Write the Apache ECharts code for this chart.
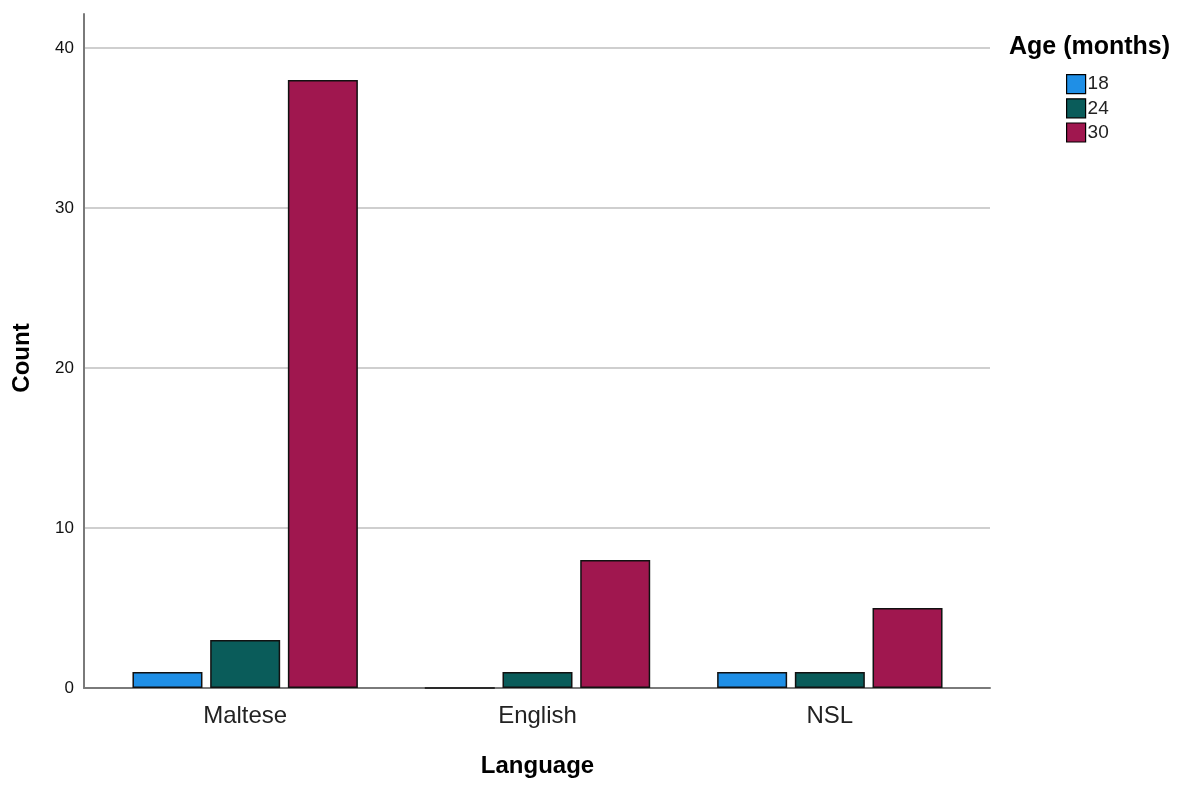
<!DOCTYPE html>
<html><head><meta charset="utf-8">
<script src="https://cdn.jsdelivr.net/npm/echarts@6/dist/echarts.min.js"></script>
<style>html,body{margin:0;padding:0;background:#fff}#c{width:1181px;height:788px}</style>
</head><body><div id="c"></div>
<script>
const categories = ['Maltese', 'English', 'NSL'];
const ageGroups = ['18', '24', '30'];
const age18 = [1, 0, 1];
const age24 = [3, 1, 1];
const age30 = [38, 8, 5];
const yTicks = [0, 10, 20, 30, 40];

const colors = ['#1f8fe6', '#0a5c5a', '#a0174f'];
const FONT = 'Liberation Sans, Arial, sans-serif';
const yMax = 40, yTop = 42.125;
const seriesData = [age18, age24, age30];

const chart = echarts.init(document.getElementById('c'));
chart.setOption({
  animation: false,
  backgroundColor: '#fff',
  textStyle: { fontFamily: FONT },
  grid: [
    { left: 84, right: 191, top: 14, bottom: 100 },
    { left: 84, right: 191, top: 48, bottom: 100 },
    { left: 99, right: 205, top: 48, bottom: 100 }
  ],
  title: [
    { text: 'Age (months)', left: 1004, top: 30, textStyle: { fontFamily: FONT, fontSize: 25, fontWeight: 'bold', color: '#000' } }
  ],
  legend: {
    data: ageGroups, orient: 'vertical', left: 1061, top: 69,
    icon: 'rect',
    itemWidth: 19, itemHeight: 19, itemGap: 4,
    textStyle: { fontFamily: FONT, fontSize: 19, color: '#222', padding: [2, 0, 0, -3] },
    itemStyle: { borderColor: '#000', borderWidth: 1.2 }
  },
  xAxis: [
    { gridIndex: 0, type: 'value', min: 0, max: 1, axisLine: { show: true, onZero: false, lineStyle: { color: '#7a7a7a', width: 2 } }, axisTick: { show: false }, axisLabel: { show: false }, splitLine: { show: false } },
    { gridIndex: 1, type: 'value', min: 0, max: 1, show: false },
    { gridIndex: 2, type: 'category', data: categories,
      name: 'Language', nameLocation: 'middle', nameGap: 66,
      nameTextStyle: { fontFamily: FONT, fontSize: 24, fontWeight: 'bold', color: '#000' },
      axisLine: { show: false }, axisTick: { show: false },
      axisLabel: { fontFamily: FONT, fontSize: 24, color: '#222', margin: 16 } }
  ],
  yAxis: [
    { gridIndex: 0, type: 'value', min: 0, max: yTop,
      name: 'Count', nameLocation: 'middle', nameGap: 50, nameRotate: 90,
      nameTextStyle: { fontFamily: FONT, fontSize: 24, fontWeight: 'bold', color: '#000', padding: [0, 14, 0, 0] },
      axisLine: { show: true, lineStyle: { color: '#7a7a7a', width: 2 } }, axisTick: { show: false }, axisLabel: { show: false }, splitLine: { show: false } },
    { gridIndex: 1, type: 'value', min: yTicks[0], max: yMax, interval: 10,
      axisLine: { show: false }, axisTick: { show: false },
      axisLabel: { fontFamily: FONT, fontSize: 17, color: '#111', margin: 10, padding: [4, 0, 0, 0] },
      splitLine: { show: true, lineStyle: { color: '#cfcfcf', width: 2 } } },
    { gridIndex: 2, type: 'value', min: 0, max: yMax, show: false }
  ],
  series: ageGroups.map((g, i) => ({
    name: g, type: 'bar', xAxisIndex: 2, yAxisIndex: 2,
    data: seriesData[i], barWidth: 70, barGap: '11%',
    itemStyle: { color: colors[i], borderColor: '#111', borderWidth: 1.5 }
  }))
});
</script></body></html>
